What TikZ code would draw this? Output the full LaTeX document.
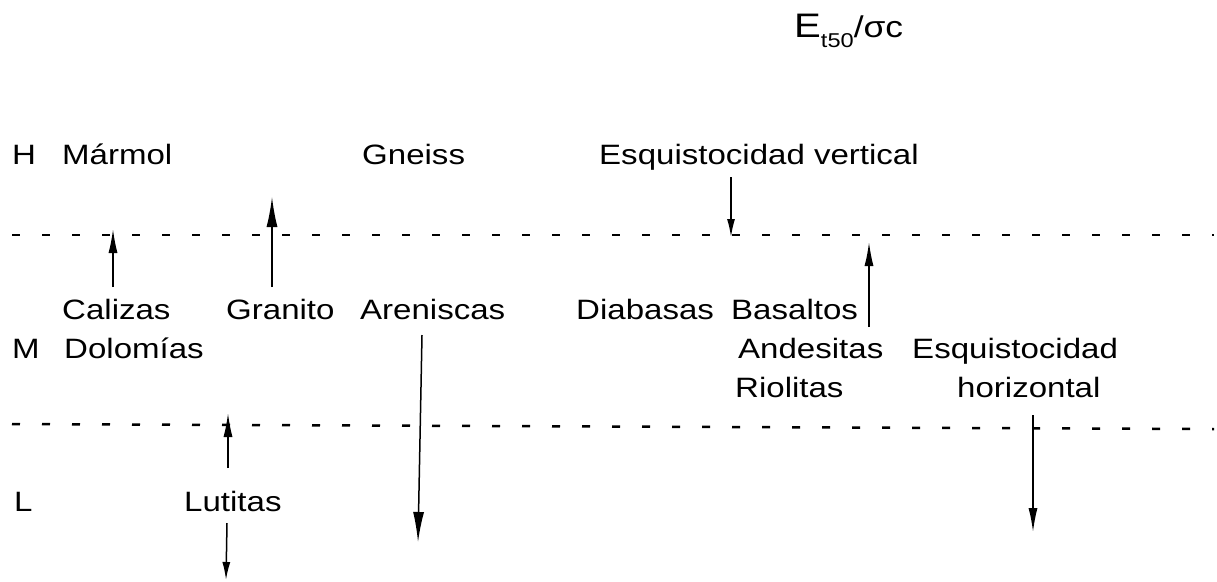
\documentclass[tikz,border=0pt]{standalone}
\usepackage{fontspec}
\setmainfont{Liberation Sans}[FakeStretch=1.18]
\usetikzlibrary{arrows.meta}
\tikzset{
  lbl/.style={anchor=base west, inner sep=0pt, font=\fontsize{28}{32}\selectfont},
  level/.style={line width=2.5pt, dash pattern=on 8pt off 22pt},
  arr/.style={line width=1.5pt, -{Latex[length=24pt,width=9pt]}},
  bigarr/.style={line width=1.5pt, -{Latex[length=30pt,width=11pt]}},
  smallarr/.style={line width=1.5pt, -{Latex[length=18pt,width=8pt]}}
}
\begin{document}
\begin{tikzpicture}[x=1pt,y=-1pt]
\useasboundingbox (0,0) rectangle (1217,581);
% title
\node[anchor=base west, inner sep=0pt] (title) at (794,37)
  {{\fontsize{34}{40}\selectfont E}\raisebox{-10pt}{\fontsize{20}{24}\selectfont t50}{\fontsize{30}{36}\selectfont /σc}};
% row H
\node[lbl] (H) at (12,164) {H};
\node[lbl] (marmol) at (62,164) {Mármol};
\node[lbl] (gneiss) at (362,164) {Gneiss};
\node[lbl] (esqv) at (599,164) {Esquistocidad vertical};
% dashed levels
\coordinate (d1a) at (12,235);
\coordinate (d1b) at (1214,235);
\draw[level] (d1a) -- (d1b);
\coordinate (d2a) at (12,424);
\coordinate (d2b) at (1214,429);
\draw[level] (d2a) -- (d2b);
% row Calizas
\node[lbl] (calizas) at (62,319) {Calizas};
\node[lbl] (granito) at (226,319) {Granito};
\node[lbl] (areniscas) at (360,319) {Areniscas};
\node[lbl] (diabasas) at (576,319) {Diabasas};
\node[lbl] (basaltos) at (731,319) {Basaltos};
% row M
\node[lbl] (M) at (12,358) {M};
\node[lbl] (dolomias) at (64,358) {Dolomías};
\node[lbl] (andesitas) at (738,358) {Andesitas};
\node[lbl] (esqh1) at (912,358) {Esquistocidad};
\node[lbl] (riolitas) at (735,397) {Riolitas};
\node[lbl] (esqh2) at (957,397) {horizontal};
% row L
\node[lbl] (L) at (14,511) {L};
\node[lbl] (lutitas) at (184,511) {Lutitas};
% arrows
\coordinate (a1s) at (113,287); \coordinate (a1e) at (113,229);
\draw[arr] (a1s) -- (a1e);
\coordinate (a2s) at (272,287); \coordinate (a2e) at (272,197);
\draw[bigarr] (a2s) -- (a2e);
\coordinate (a3s) at (731,177); \coordinate (a3e) at (731,237);
\draw[smallarr] (a3s) -- (a3e);
\coordinate (a4s) at (869,327); \coordinate (a4e) at (869,242);
\draw[arr] (a4s) -- (a4e);
\coordinate (a5s) at (228,468); \coordinate (a5e) at (228,413);
\draw[arr] (a5s) -- (a5e);
\coordinate (a6s) at (227,523); \coordinate (a6e) at (226,580);
\draw[smallarr] (a6s) -- (a6e);
\coordinate (a7s) at (422,335); \coordinate (a7e) at (418,542);
\draw[bigarr] (a7s) -- (a7e);
\coordinate (a8s) at (1033,415); \coordinate (a8e) at (1033,532);
\draw[arr] (a8s) -- (a8e);
\end{tikzpicture}
\end{document}
